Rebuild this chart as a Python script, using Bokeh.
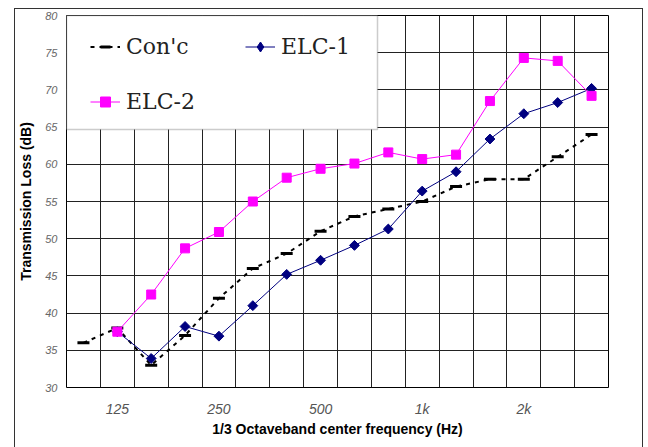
import math
from bokeh.plotting import figure
from bokeh.models import Range1d, FixedTicker, Legend, LegendItem, BoxAnnotation
from bokeh.embed import file_html
from bokeh.resources import INLINE

# 1/3 octave bands (categories)
bands = ["100", "125", "160", "200", "250", "315", "400", "500",
         "630", "800", "1k", "1.25k", "1.6k", "2k", "2.5k", "3.15k"]
# Con'c measured from 100 Hz
conc_bands = bands
conc = [36, 38, 33, 37, 42, 46, 48, 51, 53, 54, 55, 57, 58, 58, 61, 64]
# ELC series start at 125 Hz
elc_bands = bands[1:]
elc1 = [37.5, 33.9, 38.2, 36.9, 41.0, 45.2, 47.1, 49.1, 51.3, 56.4, 59.0, 63.4, 66.8, 68.3, 70.2]
elc2 = [37.5, 42.5, 48.7, 50.9, 55.0, 58.2, 59.4, 60.1, 61.6, 60.7, 61.3, 68.5, 74.3, 73.9, 69.2]

x_tick_labels = ["125", "250", "500", "1k", "2k"]
y_ticks = [30, 35, 40, 45, 50, 55, 60, 65, 70, 75, 80]


def pos(b):
    return bands.index(b) + 0.5


p = figure(width=629, height=439, output_backend="svg", toolbar_location=None,
           x_range=Range1d(0, len(bands)), y_range=Range1d(30, 80),
           min_border_left=48, min_border_right=36, min_border_top=6, min_border_bottom=61,
           margin=(8, 5, 0, 14),
           styles={"border-left": "1.5px solid #333333", "border-top": "1.5px solid #333333",
                   "border-right": "1.5px solid #333333", "box-sizing": "border-box"})
p.background_fill_color = "white"
p.border_fill_color = "white"
p.outline_line_color = "black"
p.outline_line_width = 1

# grid
p.xgrid.ticker = FixedTicker(ticks=list(range(1, len(bands))))
p.ygrid.ticker = FixedTicker(ticks=y_ticks[1:-1])
p.xgrid.grid_line_color = "#222222"
p.ygrid.grid_line_color = "#222222"
p.xgrid.grid_line_width = 1
p.ygrid.grid_line_width = 1

# axes
xt = [pos(b) for b in x_tick_labels]
p.xaxis.ticker = FixedTicker(ticks=xt)
p.xaxis.major_label_overrides = {v: b for v, b in zip(xt, x_tick_labels)}
p.yaxis.ticker = FixedTicker(ticks=y_ticks)
for ax in (p.xaxis, p.yaxis):
    ax.axis_line_color = None
    ax.major_tick_line_color = None
    ax.minor_tick_line_color = None
    ax.major_tick_in = 0
    ax.major_tick_out = 0
    ax.major_label_text_font = "Liberation Sans"
    ax.major_label_text_font_style = "italic"
    ax.axis_label_text_font = "Liberation Sans"
    ax.axis_label_text_font_style = "bold"
    ax.axis_label_text_font_size = "14px"
    ax.axis_label_text_color = "black"
p.xaxis.major_label_text_font_size = "14px"
p.xaxis.major_label_text_color = "#555555"
p.xaxis.major_label_standoff = 13
p.xaxis.axis_label_standoff = 1
p.xaxis.axis_label = "1/3 Octaveband center frequency (Hz)"
p.yaxis.major_label_text_font_size = "11px"
p.yaxis.major_label_text_color = "#666666"
p.yaxis.major_label_standoff = 9
p.yaxis.axis_label_standoff = 8
p.yaxis.axis_label = "Transmission Loss (dB)"

# series
cx = [pos(b) for b in conc_bands]
ex = [pos(b) for b in elc_bands]
l0 = p.line(cx, conc, line_color="black", line_width=2, line_dash="4 5")
s0 = p.scatter(cx, conc, marker="dash", size=12, line_color="black", line_width=3)
l1 = p.line(ex, elc1, line_color="#000080", line_width=1)
s1 = p.scatter(ex, elc1, marker="square", angle=math.pi / 4, size=7,
               fill_color="#000080", line_color="#000080")
# diamond glyph used for the legend entry (sits inside the first ELC-1 marker)
s1_leg = p.scatter(ex[:1], elc1[:1], marker="diamond", size=7,
                   fill_color="#000080", line_color="#000080")
l2 = p.line(ex, elc2, line_color="#FF00FF", line_width=1)
s2 = p.scatter(ex, elc2, marker="square", size=9,
               fill_color="#FF00FF", line_color="#FF00FF")

# legend box
box = BoxAnnotation(left=0, right=311, top=372, bottom=258,
                    left_units="screen", right_units="screen",
                    top_units="screen", bottom_units="screen",
                    fill_color="white", fill_alpha=1,
                    line_color="#555555", line_width=1.5)
p.add_layout(box)

legend = Legend(items=[LegendItem(label="Con'c", renderers=[l0, s0]),
                       LegendItem(label="ELC-1", renderers=[l1, s1_leg]),
                       LegendItem(label="ELC-2", renderers=[l2, s2])],
                orientation="horizontal", ncols=2,
                location=(24, 273.5), padding=0, margin=0, spacing=30,
                label_width=89, label_height=25, glyph_width=30, glyph_height=25,
                label_standoff=6, label_text_font="DejaVu Serif",
                label_text_font_size="22px", label_text_color="#222222",
                border_line_alpha=0, background_fill_alpha=0)
p.add_layout(legend)

open("out.html", "w").write(file_html(p, INLINE))
